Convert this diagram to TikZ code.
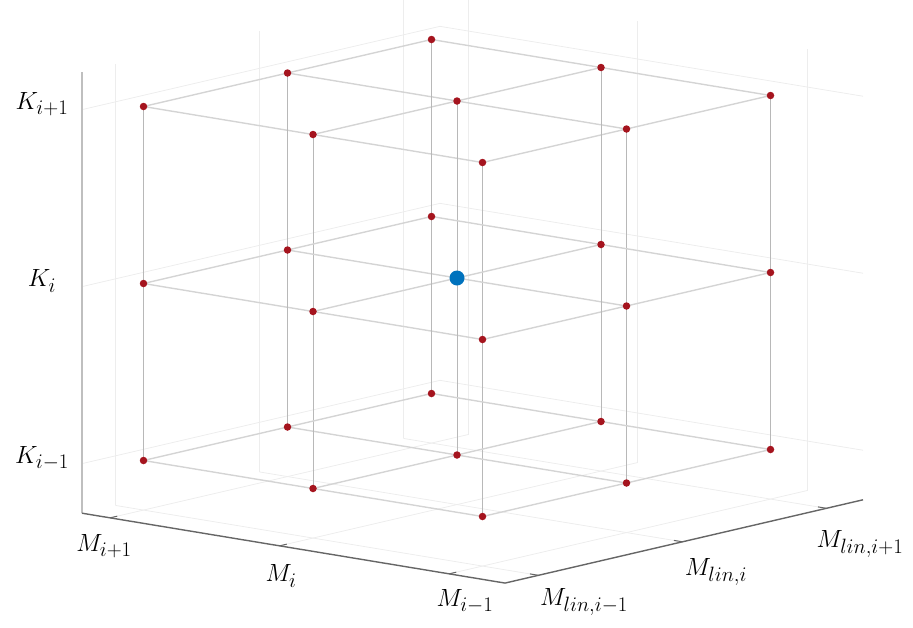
\documentclass[tikz,border=0pt]{standalone}
\usepackage{amsmath}
\definecolor{mblue}{RGB}{0,114,189}
\definecolor{mred}{RGB}{165,20,30}
\newcommand\Qpt[4]{\coordinate (#1) at ({457-169.5*(#2)+144*(#3)},{278-28*(#2)-33.5*(#3)-177*(#4)});}
\begin{document}
\begin{tikzpicture}[x=1pt,y=-1pt,
  bggrid/.style={draw=black!7, line width=0.8pt},
  latt/.style={draw=black!17, line width=1.4pt},
  vlatt/.style={draw=black!28, line width=0.8pt},
  zaxis/.style={draw=black!25, line width=2.2pt},
  haxis/.style={draw=black!60, line width=1.4pt},
  tickmark/.style={draw=black!60, line width=1pt},
  reddot/.style={circle, fill=mred, inner sep=0pt, minimum size=7.5pt},
  bluedot/.style={circle, fill=mblue, inner sep=0pt, minimum size=15pt},
  lab/.style={font=\fontsize{31}{33}\selectfont, inner sep=0pt}]
\useasboundingbox (0,0) rectangle (913,627);
\begin{scope}
\clip (0,0) rectangle (913,627);
% axis limits
\def\mmax{1.166}\def\mmin{-1.33}\def\lmin{-1.232}\def\lmax{1.254}\def\kmin{-1.28}\def\kmax{1.213}
% background grid on back walls and floor
\foreach \v/\n in {-1/a,0/b,1/c}{
  \Qpt{wm\n0}{\mmax}{\v}{\kmin}\Qpt{wm\n1}{\mmax}{\v}{\kmax}
  \Qpt{wk\n0}{\mmax}{\lmin}{\v}\Qpt{wk\n1}{\mmax}{\lmax}{\v}
  \Qpt{wl\n0}{\v}{\lmax}{\kmin}\Qpt{wl\n1}{\v}{\lmax}{\kmax}
  \Qpt{wj\n0}{\mmin}{\lmax}{\v}\Qpt{wj\n1}{\mmax}{\lmax}{\v}
  \Qpt{fm\n0}{\v}{\lmin}{\kmin}\Qpt{fm\n1}{\v}{\lmax}{\kmin}
  \Qpt{fl\n0}{\mmin}{\v}{\kmin}\Qpt{fl\n1}{\mmax}{\v}{\kmin}
  \draw[bggrid] (wm\n0) -- (wm\n1);
  \draw[bggrid] (wk\n0) -- (wk\n1);
  \draw[bggrid] (wl\n0) -- (wl\n1);
  \draw[bggrid] (wj\n0) -- (wj\n1);
  \draw[bggrid] (fm\n0) -- (fm\n1);
  \draw[bggrid] (fl\n0) -- (fl\n1);
}
% axes
\Qpt{o}{\mmax}{\lmin}{\kmin}
\Qpt{ztop}{\mmax}{\lmin}{\kmax}
\Qpt{mend}{\mmin}{\lmin}{\kmin}
\Qpt{lend}{\mmin}{\lmax}{\kmin}
\draw[zaxis] (o) -- (ztop);
\draw[haxis] (ztop |- o) -- (mend) -- (lend);
\foreach \v/\n in {-1/a,0/b,1/c}{
  \Qpt{tm\n0}{\v}{\lmin}{\kmin}\Qpt{tm\n1}{\v}{\lmin+0.05}{\kmin}
  \Qpt{tl\n0}{\mmin}{\v}{\kmin}\Qpt{tl\n1}{\mmin+0.05}{\v}{\kmin}
  \draw[tickmark] (tm\n0) -- (tm\n1);
  \draw[tickmark] (tl\n0) -- (tl\n1);
}
% lattice coordinates
\foreach \m/\a in {-1/a,0/b,1/c}
 \foreach \l/\b in {-1/a,0/b,1/c}
  \foreach \k/\c in {-1/a,0/b,1/c}{
    \Qpt{q\a\b\c}{\m}{\l}{\k}
  }
% lattice lines
\foreach \x in {a,b,c}
 \foreach \y in {a,b,c}{
   \draw[latt] (qa\x\y) -- (qc\x\y);
   \draw[latt] (q\x a\y) -- (q\x c\y);
   \draw[vlatt] (q\x\y a) -- (q\x\y c);
 }
% dots
\foreach \x in {a,b,c}
 \foreach \y in {a,b,c}
  \foreach \z in {a,b,c}{
    \node[reddot] (p\x\y\z) at (q\x\y\z) {};
  }
\node[bluedot] (centre) at (qbbb) {};
\end{scope}
% labels
\node[lab] (k1) at (42,104) {$K_{i+1}$};
\node[lab] (k0) at (42,281) {$K_{i}$};
\node[lab] (km) at (42,458) {$K_{i-1}$};
\node[lab] (m1) at (104,546) {$M_{i+1}$};
\node[lab] (m0) at (281,576) {$M_{i}$};
\node[lab] (mm) at (465,601) {$M_{i-1}$};
\node[lab] (l0) at (584,602) {$M_{lin,i-1}$};
\node[lab] (l1) at (716,572) {$M_{lin,i}$};
\node[lab] (l2) at (860,544) {$M_{lin,i+1}$};
\end{tikzpicture}
\end{document}
